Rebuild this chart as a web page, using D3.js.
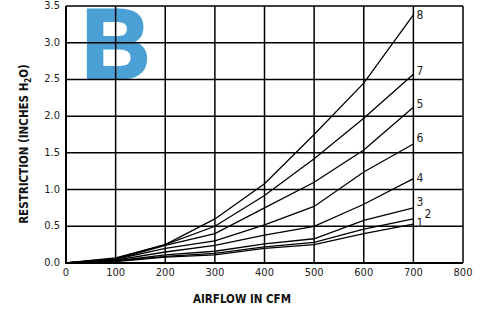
<!DOCTYPE html>
<html>
<head>
<meta charset="utf-8">
<script src="https://cdn.jsdelivr.net/npm/d3@7"></script>
<style>
  body { margin: 0; background: #fff; }
  svg { display: block; }
  .tick-lbl { font-family: "Liberation Sans Narrow", "Arial Narrow", "DejaVu Sans Condensed", sans-serif; font-size: 11px; fill: #222; }
  .ax-title { font-family: "Liberation Sans Narrow", "Arial Narrow", "DejaVu Sans Condensed", sans-serif; font-size: 11.5px; font-weight: bold; fill: #111; }
</style>
</head>
<body>
<div id="chart"></div>
<script>
// airflow values (CFM) where each curve was read
var airflow = [0, 100, 200, 300, 400, 500, 600, 700];

// restriction (inches H2O) for each numbered curve
var curve8 = [0, 0.07, 0.25, 0.60, 1.08, 1.75, 2.45, 3.38];
var curve7 = [0, 0.06, 0.25, 0.50, 0.92, 1.42, 1.97, 2.57];
var curve5 = [0, 0.05, 0.24, 0.40, 0.75, 1.10, 1.54, 2.12];
var curve6 = [0, 0.05, 0.20, 0.30, 0.52, 0.77, 1.24, 1.62];
var curve4 = [0, 0.04, 0.15, 0.24, 0.38, 0.50, 0.80, 1.15];
var curve3 = [0, 0.03, 0.11, 0.16, 0.26, 0.33, 0.58, 0.75];
var curve2 = [0, 0.03, 0.09, 0.13, 0.22, 0.28, 0.46, 0.60];
var curve1 = [0, 0.02, 0.08, 0.11, 0.20, 0.25, 0.40, 0.53];

var curveNames = ["8", "7", "5", "6", "4", "3", "2", "1"];
var curveValues = [curve8, curve7, curve5, curve6, curve4, curve3, curve2, curve1];

var xTicks = [0, 100, 200, 300, 400, 500, 600, 700, 800];
var yTicks = [0, 0.5, 1.0, 1.5, 2.0, 2.5, 3.0, 3.5];

// label nudges so the numbers sit like the original
var labelOffset = {
  "8": [3, 0], "7": [3, -3], "5": [3, -3], "6": [3, -6],
  "4": [3, -1], "3": [3, -6], "2": [11, -5], "1": [3, -1]
};

var W = 480, H = 310;
var margin = {top: 6, right: 17, bottom: 47, left: 66};

var svg = d3.select("#chart").append("svg")
    .attr("width", W)
    .attr("height", H);

var x = d3.scaleLinear().domain([0, 800]).range([margin.left, W - margin.right]);
var y = d3.scaleLinear().domain([0, 3.5]).range([H - margin.bottom, margin.top]);

// big "B" badge behind the grid
svg.append("text")
    .attr("x", 82)
    .attr("y", 78)
    .attr("font-family", "Liberation Sans, Arial, sans-serif")
    .attr("font-weight", "bold")
    .attr("font-size", 98)
    .attr("fill", "#4ba0d6")
    .attr("stroke", "#4ba0d6")
    .attr("stroke-width", 3)
    .attr("textLength", 68)
    .attr("lengthAdjust", "spacingAndGlyphs")
    .text("B");

// grid
var grid = svg.append("g").attr("stroke", "#000").attr("stroke-width", 1.5);

grid.selectAll("line.v")
    .data(xTicks)
    .enter().append("line")
    .attr("class", "v")
    .attr("x1", function(d) { return x(d); })
    .attr("x2", function(d) { return x(d); })
    .attr("y1", y(0))
    .attr("y2", y(3.5));

grid.selectAll("line.h")
    .data(yTicks)
    .enter().append("line")
    .attr("class", "h")
    .attr("x1", x(0))
    .attr("x2", x(800))
    .attr("y1", function(d) { return y(d); })
    .attr("y2", function(d) { return y(d); });

// axis frame a bit heavier
svg.append("path")
    .attr("d", "M" + x(0) + "," + y(3.5) + "V" + y(0) + "H" + x(800))
    .attr("fill", "none")
    .attr("stroke", "#000")
    .attr("stroke-width", 2);

// tick labels
svg.selectAll("text.xt")
    .data(xTicks)
    .enter().append("text")
    .attr("class", "tick-lbl xt")
    .attr("x", function(d) { return x(d); })
    .attr("y", y(0) + 13)
    .attr("text-anchor", "middle")
    .text(function(d) { return d; });

svg.selectAll("text.yt")
    .data(yTicks)
    .enter().append("text")
    .attr("class", "tick-lbl yt")
    .attr("x", x(0) - 6)
    .attr("y", function(d) { return y(d) + 3; })
    .attr("text-anchor", "end")
    .text(function(d) { return d3.format(".1f")(d); });

// curves
var line = d3.line()
    .x(function(d, i) { return x(airflow[i]); })
    .y(function(d) { return y(d); });

svg.selectAll("path.curve")
    .data(curveValues)
    .enter().append("path")
    .attr("class", "curve")
    .attr("d", line)
    .attr("fill", "none")
    .attr("stroke", "#000")
    .attr("stroke-width", 1.3);

svg.selectAll("text.cl")
    .data(curveNames)
    .enter().append("text")
    .attr("class", "tick-lbl cl")
    .attr("font-size", 12)
    .attr("x", function(d) { return x(700) + labelOffset[d][0]; })
    .attr("y", function(d, i) {
        var vals = curveValues[i];
        return y(vals[vals.length - 1]) + labelOffset[d][1] + 4;
    })
    .style("font-size", "12px")
    .text(function(d) { return d; });

// axis titles
svg.append("text")
    .attr("class", "ax-title")
    .attr("x", 242)
    .attr("y", 303)
    .attr("text-anchor", "middle")
    .text("AIRFLOW IN CFM");

var yt = svg.append("text")
    .attr("class", "ax-title")
    .attr("text-anchor", "middle")
    .attr("transform", "translate(28,144) rotate(-90)");
yt.append("tspan").text("RESTRICTION (INCHES H");
yt.append("tspan").attr("font-size", "8px").attr("dy", 3).text("2");
yt.append("tspan").attr("dy", -3).text("O)");
</script>
</body>
</html>
